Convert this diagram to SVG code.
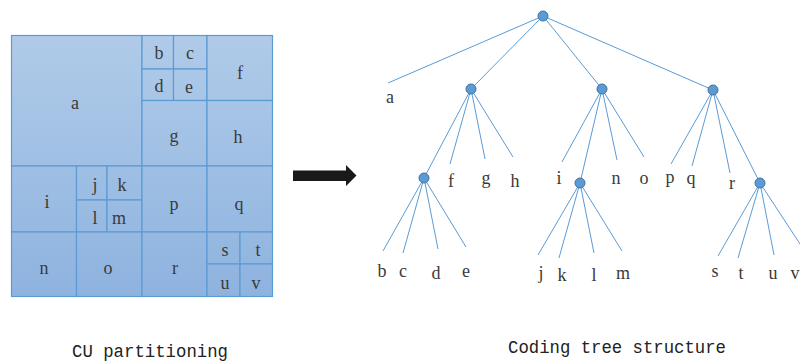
<svg xmlns="http://www.w3.org/2000/svg" width="800" height="362" viewBox="0 0 800 362">
<defs>
<linearGradient id="bg" gradientUnits="userSpaceOnUse" x1="0" y1="35" x2="0" y2="297">
<stop offset="0" stop-color="#b0cbe9"/>
<stop offset="1" stop-color="#8eb3df"/>
</linearGradient>
<style>
.cell{fill:url(#bg);stroke:#5b9bd5;stroke-width:1.2}
.lbl{font-family:"Liberation Serif",serif;font-size:18px;fill:#3a3a3a;text-anchor:middle}
.edge{stroke:#5b9bd5;stroke-width:1;fill:none}
.node{fill:#5b9bd5;stroke:#41719c;stroke-width:1}
.cap{font-family:"Liberation Mono",monospace;font-size:19px;fill:#222}
</style>
</defs>
<rect width="800" height="362" fill="#fff"/>
<g id="cu-partition">
<g id="cell-a"><rect class="cell" x="11.5" y="35.5" width="130.5" height="130.5"/><text class="lbl" x="75" y="109">a</text></g>
<g id="cell-b"><rect class="cell" x="142" y="35.5" width="31.5" height="33.5"/><text class="lbl" x="159" y="59">b</text></g>
<g id="cell-c"><rect class="cell" x="173.5" y="35.5" width="33.5" height="33.5"/><text class="lbl" x="190" y="59">c</text></g>
<g id="cell-d"><rect class="cell" x="142" y="69" width="31.5" height="31.5"/><text class="lbl" x="159" y="92">d</text></g>
<g id="cell-e"><rect class="cell" x="173.5" y="69" width="33.5" height="31.5"/><text class="lbl" x="189" y="93">e</text></g>
<g id="cell-f"><rect class="cell" x="207" y="35.5" width="65.5" height="65"/><text class="lbl" x="240" y="79">f</text></g>
<g id="cell-g"><rect class="cell" x="142" y="100.5" width="65" height="65.5"/><text class="lbl" x="174" y="142">g</text></g>
<g id="cell-h"><rect class="cell" x="207" y="100.5" width="65.5" height="65.5"/><text class="lbl" x="238" y="143">h</text></g>
<g id="cell-i"><rect class="cell" x="11.5" y="166" width="65" height="66"/><text class="lbl" x="47" y="208">i</text></g>
<g id="cell-j"><rect class="cell" x="76.5" y="166" width="30.5" height="34"/><text class="lbl" x="95" y="191">j</text></g>
<g id="cell-k"><rect class="cell" x="107" y="166" width="35" height="34"/><text class="lbl" x="122" y="191">k</text></g>
<g id="cell-l"><rect class="cell" x="76.5" y="200" width="30.5" height="32"/><text class="lbl" x="95" y="224">l</text></g>
<g id="cell-m"><rect class="cell" x="107" y="200" width="35" height="32"/><text class="lbl" x="119" y="224">m</text></g>
<g id="cell-p"><rect class="cell" x="142" y="166" width="65" height="66"/><text class="lbl" x="174" y="210">p</text></g>
<g id="cell-q"><rect class="cell" x="207" y="166" width="65.5" height="66"/><text class="lbl" x="239" y="210">q</text></g>
<g id="cell-n"><rect class="cell" x="11.5" y="232" width="65" height="64.5"/><text class="lbl" x="44" y="274">n</text></g>
<g id="cell-o"><rect class="cell" x="76.5" y="232" width="65.5" height="64.5"/><text class="lbl" x="108" y="274">o</text></g>
<g id="cell-r"><rect class="cell" x="142" y="232" width="65" height="64.5"/><text class="lbl" x="175" y="274">r</text></g>
<g id="cell-s"><rect class="cell" x="207" y="232" width="33" height="32"/><text class="lbl" x="225" y="256">s</text></g>
<g id="cell-t"><rect class="cell" x="240" y="232" width="32.5" height="32"/><text class="lbl" x="258" y="256">t</text></g>
<g id="cell-u"><rect class="cell" x="207" y="264" width="33" height="32.5"/><text class="lbl" x="225" y="289">u</text></g>
<g id="cell-v"><rect class="cell" x="240" y="264" width="32.5" height="32.5"/><text class="lbl" x="256" y="289">v</text></g>
</g>
<g id="arrow">
<polygon points="293,170.5 346,170.5 346,165 356.5,175.5 346,186 346,181 293,181" fill="#1a1a1a"/>
</g>
<g id="connectors">
<line class="edge" x1="543" y1="16" x2="388" y2="83"/>
<line class="edge" x1="543" y1="16" x2="471" y2="89"/>
<line class="edge" x1="543" y1="16" x2="602" y2="89"/>
<line class="edge" x1="543" y1="16" x2="713" y2="90"/>
<line class="edge" x1="471" y1="89" x2="424" y2="178"/>
<line class="edge" x1="471" y1="89" x2="450" y2="164"/>
<line class="edge" x1="471" y1="89" x2="485" y2="159"/>
<line class="edge" x1="471" y1="89" x2="513" y2="157"/>
<line class="edge" x1="602" y1="89" x2="562" y2="162"/>
<line class="edge" x1="602" y1="89" x2="580" y2="183"/>
<line class="edge" x1="602" y1="89" x2="617" y2="160"/>
<line class="edge" x1="602" y1="89" x2="644" y2="157"/>
<line class="edge" x1="713" y1="90" x2="671" y2="164"/>
<line class="edge" x1="713" y1="90" x2="692" y2="166"/>
<line class="edge" x1="713" y1="90" x2="730" y2="173"/>
<line class="edge" x1="713" y1="90" x2="760" y2="183"/>
<line class="edge" x1="424" y1="178" x2="383" y2="251"/>
<line class="edge" x1="424" y1="178" x2="403" y2="253"/>
<line class="edge" x1="424" y1="178" x2="438" y2="249"/>
<line class="edge" x1="424" y1="178" x2="466" y2="247"/>
<line class="edge" x1="580" y1="183" x2="538" y2="255"/>
<line class="edge" x1="580" y1="183" x2="559" y2="258"/>
<line class="edge" x1="580" y1="183" x2="594" y2="253"/>
<line class="edge" x1="580" y1="183" x2="622" y2="251"/>
<line class="edge" x1="760" y1="183" x2="718" y2="256"/>
<line class="edge" x1="760" y1="183" x2="738" y2="258"/>
<line class="edge" x1="760" y1="183" x2="774" y2="255"/>
<line class="edge" x1="760" y1="183" x2="804" y2="250"/>
</g>
<g id="node-root"><circle class="node" cx="543" cy="16" r="5"/></g>
<g id="node-1"><circle class="node" cx="471" cy="89" r="5"/></g>
<g id="node-2"><circle class="node" cx="602" cy="89" r="5"/></g>
<g id="node-3"><circle class="node" cx="713" cy="90" r="5"/></g>
<g id="node-1-1"><circle class="node" cx="424" cy="178" r="5"/></g>
<g id="node-2-2"><circle class="node" cx="580" cy="183" r="5"/></g>
<g id="node-3-4"><circle class="node" cx="760" cy="183" r="5"/></g>
<g id="tree-labels">
<text class="lbl" x="390" y="103">a</text>
<text class="lbl" x="451" y="187">f</text>
<text class="lbl" x="486" y="184">g</text>
<text class="lbl" x="515" y="187">h</text>
<text class="lbl" x="559" y="184">i</text>
<text class="lbl" x="616" y="184">n</text>
<text class="lbl" x="644" y="184">o</text>
<text class="lbl" x="670" y="183">p</text>
<text class="lbl" x="691" y="184">q</text>
<text class="lbl" x="732" y="189">r</text>
<text class="lbl" x="382" y="277">b</text>
<text class="lbl" x="403" y="277">c</text>
<text class="lbl" x="436" y="279">d</text>
<text class="lbl" x="466" y="277">e</text>
<text class="lbl" x="541" y="279">j</text>
<text class="lbl" x="562" y="281">k</text>
<text class="lbl" x="594" y="281">l</text>
<text class="lbl" x="623" y="279">m</text>
<text class="lbl" x="715" y="277">s</text>
<text class="lbl" x="741" y="279">t</text>
<text class="lbl" x="773" y="279">u</text>
<text class="lbl" x="795" y="279">v</text>
</g>
<g id="captions">
<text class="cap" x="72" y="357" textLength="156" lengthAdjust="spacingAndGlyphs">CU partitioning</text>
<text class="cap" x="508" y="353" textLength="218" lengthAdjust="spacingAndGlyphs">Coding tree structure</text>
</g>
</svg>
